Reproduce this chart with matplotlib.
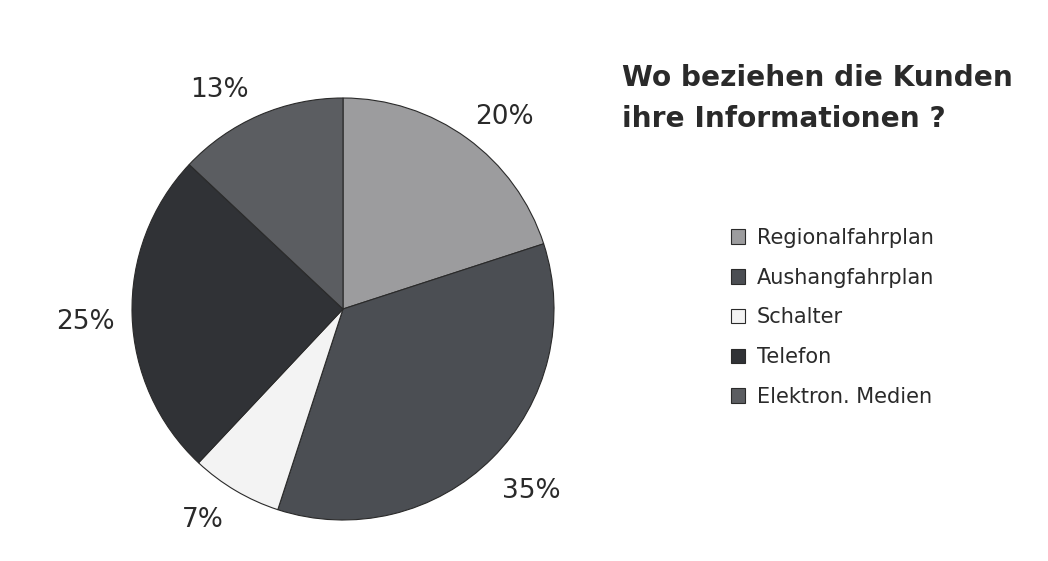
import numpy as np
import matplotlib.pyplot as plt

# Daten
kategorien = ['Regionalfahrplan', 'Aushangfahrplan', 'Schalter', 'Telefon', 'Elektron. Medien']
anteile = [20, 35, 7, 25, 13]
farben = ['#9c9c9e', '#4b4e53', '#f3f3f3', '#303236', '#5b5d61']
titel = 'Wo beziehen die Kunden\nihre Informationen ?'

# Lage der Prozentbeschriftungen (Abstand in Radien, Drehung im Uhrzeigersinn in Grad)
label_abstand = [1.19, 1.24, 1.20, 1.22, 1.19]
label_drehung = [4, -1, 3, -1, -6]

plt.rcParams['font.family'] = ['DejaVu Sans']

fig = plt.figure(figsize=(10.48, 5.61), dpi=100)
W, H = 1048, 561
ax = fig.add_axes([132 / W, 41 / H, 422 / W, 422 / H])

wedges, _ = ax.pie(
    anteile, colors=farben, startangle=90, counterclock=False,
    wedgeprops=dict(edgecolor='#2a2a2a', linewidth=0.8))

for w, wert, r, d in zip(wedges, anteile, label_abstand, label_drehung):
    winkel = np.deg2rad((w.theta1 + w.theta2) / 2 - d)
    ax.text(r * np.cos(winkel), r * np.sin(winkel), f'{wert}%',
            ha='center', va='center', fontsize=19, color='#2a2a2a')

ax.set_xlim(-1, 1)
ax.set_ylim(-1, 1)
ax.set_aspect('equal')
ax.axis('off')

fig.text(622 / W, 1 - 64 / H, titel, fontsize=20.2, fontweight='bold',
         color='#2a2a2a', ha='left', va='top', linespacing=1.6)

fig.legend(wedges, kategorien, loc='upper left',
           bbox_to_anchor=(712 / W, 1 - 209 / H), frameon=False,
           fontsize=15, handlelength=0.7, handleheight=0.7,
           handletextpad=0.55, labelspacing=0.95, labelcolor='#2a2a2a')

fig.savefig('out.png', dpi=100, facecolor='white')
